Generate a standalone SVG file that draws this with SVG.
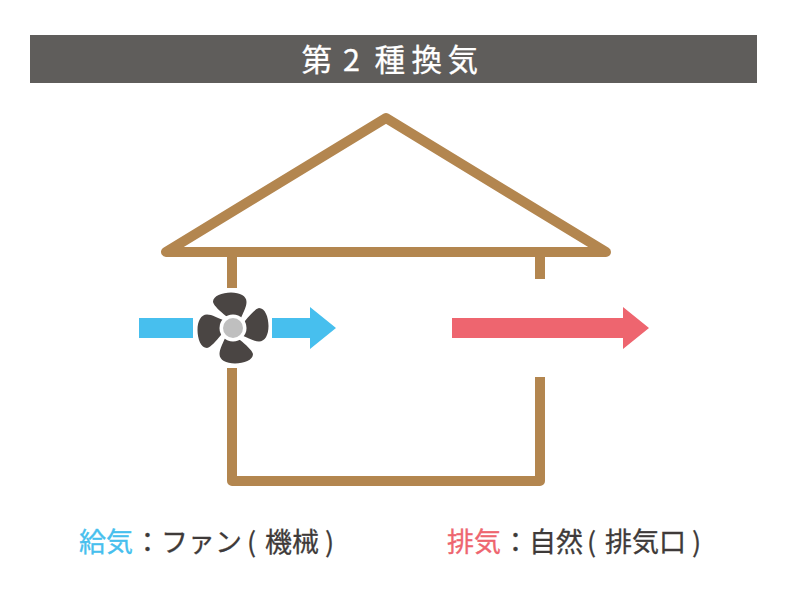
<svg xmlns="http://www.w3.org/2000/svg" width="787" height="596" viewBox="0 0 787 596">
<defs>
<path id="blade" d="M240 320C243 313 246.500 307 246.500 302C246.500 296 240 292.500 231 292.500C222 292.500 213 296 213 302C214 306 220 311 226 316Z"/>
</defs>
<style>
.wall{fill:none;stroke:#b3864f;stroke-width:10;stroke-linecap:round;stroke-linejoin:round}
.wb{fill:none;stroke:#b3864f;stroke-width:10;stroke-linecap:butt}
.t{font-family:"Noto Sans CJK JP","Noto Sans",sans-serif;font-weight:400}
.lab{font-size:27px;fill:#3e3a39;stroke:#3e3a39;stroke-width:0.300}
.blade{fill:#4a4543}
</style>
<rect width="787" height="596" fill="#ffffff"/>
<g id="title">
<rect x="30" y="35" width="727" height="48" fill="#5f5d5b"/>
<text class="t" y="71" font-size="30.500" fill="#ffffff" stroke="#ffffff" stroke-width="0.300" x="301.500 343 374.500 411.500 447.500">第2種換気</text>
</g>
<g id="house">
<path class="wall" d="M166 252H606L386 118Z"/>
<path class="wb" d="M232 252V288M540 252V279M232 368V481"/>
<path class="wall" d="M232 481H540V420"/>
<path class="wb" d="M540 425V377"/>
</g>
<g id="connectors">
<path d="M139 318H193V338H139Z" fill="#47bfee"/>
<path d="M272 318H310V307L336 328L310 349V338H272Z" fill="#47bfee"/>
<path d="M452 318H623V307L649 328L623 349V338H452Z" fill="#ee656f"/>
</g>
<g id="fan">
<use href="#blade" class="blade"/>
<use href="#blade" class="blade" transform="rotate(90 233 328)"/>
<use href="#blade" class="blade" transform="rotate(180 233 328)"/>
<use href="#blade" class="blade" transform="rotate(270 233 328)"/>
<circle cx="233" cy="328" r="13.500" fill="#ffffff"/>
<circle cx="233" cy="328" r="10" fill="#bfbfbf"/>
</g>
<g id="label-supply">
<text class="t lab" y="552" x="79 106" style="fill:#47bfee;stroke:#47bfee">給気</text>
<text class="t lab" y="552" x="134 161 188 215">：ファン</text>
<text class="t lab" y="552" x="247">(</text>
<text class="t lab" y="552" x="265 292">機械</text>
<text class="t lab" y="552" x="325">)</text>
</g>
<g id="label-exhaust">
<text class="t lab" y="552" x="447 474" style="fill:#ee656f;stroke:#ee656f">排気</text>
<text class="t lab" y="552" x="502 529 556">：自然</text>
<text class="t lab" y="552" x="587">(</text>
<text class="t lab" y="552" x="605 632 659">排気口</text>
<text class="t lab" y="552" x="692">)</text>
</g>
</svg>
